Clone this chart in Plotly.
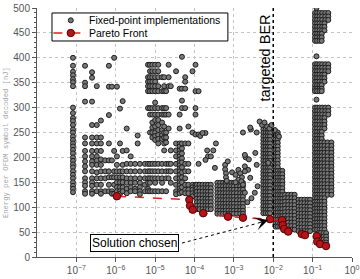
import math
import plotly.graph_objects as go

# ---------------- data ----------------
# Fixed-point implementations, vertical stacks: one BER, several energies [nJ]
stack_ber = [8.2e-8, 1.66e-7, 2.5e-7, 3.3e-7, 4.2e-7, 5.4e-7, 6.7e-7, 8e-7, 9.1e-7,
             1.07e-6, 1.28e-6, 1.5e-6, 1.9e-6, 2.4e-6, 3.1e-6, 3.6e-6, 4.1e-6, 5.5e-6,
             6.6e-6, 7.4e-6, 8.5e-6, 1.0e-5, 1.2e-5, 1.5e-5, 1.7e-5, 1.9e-5, 2.2e-5,
             2.5e-5, 3.4e-5, 4.2e-5, 4.8e-5, 5.8e-5, 7e-5, 8.9e-5, 1.06e-4, 1.27e-4]
stack_energy = [
    [400, 384, 372, 365, 357, 351, 343, 300, 289, 279, 273, 265, 256, 250, 242, 235, 228, 222,
     215, 208, 200, 193, 186, 180, 172, 165, 158, 150, 143, 137, 130],
    [384, 350, 343, 312, 240, 228, 213, 202, 192, 182, 172, 158, 150, 143, 132, 127],
    [371, 360, 312, 265, 240, 228, 213, 202, 192, 185, 172, 158, 150, 143, 132, 127],
    [343, 265, 240, 228, 213, 202, 194, 185, 170, 158, 145, 132],
    [274, 240, 228, 213, 196, 185, 172, 158, 145, 132, 127],
    [194, 172, 158, 132],
    [384, 342, 285, 228, 194, 172, 160, 145, 132],
    [342, 194, 160, 132, 127],
    [400, 213, 172, 160, 145, 127],
    [342, 202, 185, 172, 160, 150, 140, 132],
    [298, 228, 172, 160, 150, 140, 132, 127],
    [313, 213, 185, 172, 160, 150, 140, 132],
    [258, 214, 187, 172, 158, 149, 137, 128],
    [202, 187, 172, 158, 149, 140, 132],
    [187, 172, 158, 149, 137, 132],
    [244, 228],
    [187, 172, 158, 149, 140, 132, 126],
    [187, 172, 158, 145, 132],
    [386, 361, 352, 343, 333, 299, 187, 172, 158, 149, 137, 132],
    [386, 373, 361, 352, 343, 333, 299, 286, 250, 187, 172, 158, 149, 132],
    [386, 373, 361, 352, 343, 333, 299, 286, 270, 260, 250, 240, 187, 172, 158, 132],
    [386, 373, 361, 352, 343, 333, 310, 299, 286, 275, 262, 250, 243, 235, 187, 172, 158, 149, 132],
    [386, 373, 361, 343, 333, 299, 286, 275, 265, 255, 245, 237, 228, 187, 172, 158, 132],
    [361, 333, 299, 286, 270, 255, 245, 237, 187, 172, 158, 149, 132],
    [361, 343, 333, 299, 286, 262, 250, 240, 228, 214],
    [333, 299, 286, 250, 240, 230, 187, 172, 158, 132],
    [386, 361, 343, 286, 258, 187, 172, 158],
    [343, 214, 187, 172, 149],
    [373, 228, 214, 202, 187, 172, 158, 145, 132, 126],
    [338, 286, 258, 228, 222, 214, 208, 202, 196, 190, 184, 178, 172, 165, 158, 150, 144, 138, 132, 128],
    [402, 338, 314, 299, 228, 218, 208, 198, 190, 180, 170, 160, 150, 140, 130],
    [361, 352, 338, 299, 228, 187, 172, 158, 145, 135, 128],
    [262, 228, 187, 172, 145, 135, 128],
    [373, 250, 145, 140, 135, 128, 122],
    [386, 333, 299, 286, 246, 145, 140, 135, 128],
    [333, 246, 187, 145, 135, 128, 120],
]

# Fixed-point implementations, horizontal blocks: rows of energies sharing BER positions
block_energy = [
    [490, 483, 476], [469, 462, 455], [448, 441, 434], [500, 403, 316],
    [387, 380, 373], [366, 359, 352], [345, 338, 333],
    [300, 293, 286], [279, 272, 265, 258], [251, 244, 237],
    [230, 223, 216, 209, 202, 195, 188, 181, 174, 167, 160, 153, 146, 139, 132, 125],
    [118, 111, 104, 97, 90, 83, 76, 69, 62, 55],
    [48, 41, 35, 29],
    [256, 249, 242, 235, 228, 221, 214, 207, 200, 193, 186, 179, 172, 165, 158, 151, 144,
     137, 130, 123, 116, 109, 102, 95, 88],
    [250, 243, 236, 229, 222, 215, 208, 201, 194, 187, 180],
    [173, 166, 159, 152, 145, 138, 131, 124, 117, 110, 103, 96, 89, 82, 75, 68, 61],
    [125, 118, 111, 104, 97, 90, 83, 76, 69, 62, 55],
    [115, 108, 101, 94, 87, 80, 73, 66, 59, 52],
    [145, 138, 131, 124, 117, 110, 103, 96],
    [149, 142, 135, 128, 121, 114, 107, 100, 93, 87],
]
block_ber = [
    [0.115, 0.13, 0.15, 0.175, 0.21, 0.25], [0.115, 0.13, 0.15, 0.175, 0.2], [0.115, 0.13, 0.15, 0.17],
    [0.125],
    [0.115, 0.13, 0.15, 0.175, 0.21, 0.25], [0.115, 0.13, 0.15, 0.175, 0.2], [0.115, 0.13, 0.15, 0.17],
    [0.115, 0.13, 0.15, 0.175, 0.21, 0.25], [0.115, 0.13, 0.15, 0.175, 0.2], [0.115, 0.13, 0.15, 0.17],
    [0.115, 0.13, 0.15, 0.17, 0.2, 0.24, 0.3],
    [0.115, 0.13, 0.15, 0.17, 0.2],
    [0.14, 0.16, 0.19, 0.22],
    [5.6e-3, 6.4e-3, 7.3e-3, 8.3e-3],
    [1.15e-2, 1.3e-2],
    [1.15e-2, 1.3e-2, 1.5e-2, 1.7e-2],
    [2.0e-2, 2.4e-2, 2.9e-2, 3.5e-2],
    [4.4e-2, 5.2e-2, 6.2e-2, 7.4e-2, 8.6e-2],
    [1.15e-4, 1.35e-4, 1.6e-4, 1.9e-4, 2.2e-4, 2.6e-4],
    [3.8e-4, 4.5e-4, 5.3e-4, 6.2e-4, 7.3e-4, 8.6e-4, 1e-3, 1.2e-3, 1.45e-3, 1.7e-3],
]

# Fixed-point implementations, isolated points
single_ber = [1.4e-4, 1.9e-4, 1.6e-4, 3.5e-4, 3e-4, 2.2e-4, 2.6e-4, 2.1e-4, 1.9e-4, 3.3e-4,
              6e-4, 6e-4, 6.3e-4, 6.3e-4, 6.6e-4, 1.3e-3, 1.45e-3, 1.6e-3, 1.3e-3, 1.55e-3,
              1.9e-3, 2.3e-3, 3.8e-3, 7.5e-3, 1.9e-3, 2.6e-3, 1.7e-3, 4e-3, 1.9e-3, 3.4e-3,
              2.2e-3, 2.8e-3, 2e-3, 3.5e-3, 7e-4, 9e-4, 1.1e-3, 1.1e-3, 1.9e-3, 2.4e-3,
              4.5e-3, 5.2e-3, 6e-3, 7e-3, 8e-3, 9e-3, 1.1e-2, 1.3e-2, 1.4e-2, 1.7e-3, 2.7e-3,
              2.6e-3, 3.8e-3]
single_energy = [243, 249, 249, 228, 214, 202, 202, 214, 195, 179,
                 185, 176, 168, 160, 153, 175, 168, 160, 155, 152,
                 182, 175, 185, 189, 172, 159, 145, 142, 129, 129,
                 110, 118, 200, 209, 192, 170, 165, 150, 205, 196,
                 272, 265, 270, 262, 258, 265, 255, 245, 242, 250, 256,
                 260, 250]

# Pareto front
pareto_ber = [1.07e-6, 7.4e-5, 7.7e-5, 9e-5, 1.66e-4, 7.1e-4, 1.7e-3, 8.26e-3, 1.67e-2,
              1.74e-2, 1.9e-2, 2.4e-2, 5.3e-2, 6.4e-2, 0.127, 0.131, 0.154, 0.219]
pareto_energy = [122, 115, 103, 95, 88, 81, 79, 76, 74, 64, 56, 51, 46, 44, 42, 31, 26, 22]
chosen_index = 7

target_ber = 1e-2
x_tick_vals = [1e-7, 1e-6, 1e-5, 1e-4, 1e-3, 1e-2, 1e-1, 1e0]
x_tick_text = ['10<sup>−7</sup>', '10<sup>−6</sup>', '10<sup>−5</sup>', '10<sup>−4</sup>',
               '10<sup>−3</sup>', '10<sup>−2</sup>', '10<sup>−1</sup>', '10<sup>0</sup>']
y_tick_vals = [0, 50, 100, 150, 200, 250, 300, 350, 400, 450, 500]
legend_labels = ['Fixed-point implementations', 'Pareto Front']

# ---------------- style ----------------
GRAY_FILL, GRAY_EDGE = '#787878', '#1e1e1e'
RED_FILL, RED_EDGE, RED_LINE = '#b3151a', '#5a0000', '#e0201c'
SANS = 'Liberation Sans, Arial, sans-serif'

# ---------------- build ----------------
fx, fy = [], []
for b, es in zip(stack_ber, stack_energy):
    for e in es:
        fx.append(b)
        fy.append(e)
for es, bs in zip(block_energy, block_ber):
    for e in es:
        for b in bs:
            fx.append(b)
            fy.append(e)
fx += single_ber
fy += single_energy

fig = go.Figure()
fig.add_trace(go.Scatter(
    x=fx, y=fy, mode='markers', name=legend_labels[0], showlegend=False,
    marker=dict(size=5, color=GRAY_FILL, line=dict(color=GRAY_EDGE, width=1)),
))
fig.add_trace(go.Scatter(
    x=[target_ber, target_ber], y=[0, 500], mode='lines', showlegend=False,
    line=dict(color='black', width=1.5, dash='dot'), hoverinfo='skip',
))
cb, ce = pareto_ber[chosen_index], pareto_energy[chosen_index]
fig.add_trace(go.Scatter(
    x=[4.8e-5, cb * 0.45], y=[28, ce - 9], mode='lines', showlegend=False,
    line=dict(color='black', width=1, dash='dot'), hoverinfo='skip',
))
fig.add_trace(go.Scatter(
    x=pareto_ber, y=pareto_energy, mode='lines+markers', name=legend_labels[1], showlegend=False,
    line=dict(color=RED_LINE, width=1.5, dash='dash'),
    marker=dict(size=7.5, color=RED_FILL, line=dict(color=RED_EDGE, width=1)),
))

# arrow head pointing at the chosen solution
fig.add_annotation(
    x=math.log10(cb * 0.9), y=ce - 1.5, ax=math.log10(cb * 0.45), ay=ce - 9,
    xref='x', yref='y', axref='x', ayref='y', text='', showarrow=True,
    arrowhead=3, arrowsize=2.2, arrowwidth=1, arrowcolor='black', standoff=0,
)
fig.add_annotation(
    x=0.308, y=0.056, xref='paper', yref='paper', xanchor='center', yanchor='middle',
    text='Solution chosen', showarrow=False,
    font=dict(family=SANS, size=12, color='black'),
    bgcolor='white', bordercolor='black', borderwidth=1, borderpad=1,
)
fig.add_annotation(
    x=-2.21, y=0.801, xref='x', yref='paper', xanchor='center', yanchor='middle',
    text='targeted BER', showarrow=False,
    textangle=-90, font=dict(family=SANS, size=14.5, color='black'),
)
fig.add_annotation(
    x=-0.098, y=0.458, xref='paper', yref='paper', xanchor='center', yanchor='middle',
    text='Energy per OFDM symbol decoded [nJ]',
    showarrow=False, textangle=-90,
    font=dict(family='Liberation Mono, DejaVu Sans Mono, monospace', size=7.2, color='#a4a4a4'),
)

# compact boxed legend (top-left, inside the axes)
L, R, T, B = 0.0476, 0.606, 0.98, 0.8675
row1, row2, symx, textx = 0.9505, 0.8996, 0.1073, 0.158
shapes = [
    dict(type='rect', xref='paper', yref='paper', x0=L, x1=R, y0=B, y1=T,
         fillcolor='white', line=dict(color='black', width=1), layer='above'),
    dict(type='circle', xref='paper', yref='paper', xsizemode='pixel', ysizemode='pixel',
         xanchor=symx, yanchor=row1, x0=-2.5, x1=2.5, y0=-2.5, y1=2.5,
         fillcolor=GRAY_FILL, line=dict(color=GRAY_EDGE, width=1), layer='above'),
    dict(type='line', xref='paper', yref='paper', x0=0.052, x1=0.155, y0=row2, y1=row2,
         line=dict(color=RED_LINE, width=1.5, dash='dash'), layer='above'),
    dict(type='circle', xref='paper', yref='paper', xsizemode='pixel', ysizemode='pixel',
         xanchor=symx, yanchor=row2, x0=-3.7, x1=3.7, y0=-3.7, y1=3.7,
         fillcolor=RED_FILL, line=dict(color=RED_EDGE, width=1), layer='above'),
]
for lab, yy in zip(legend_labels, [row1, row2]):
    fig.add_annotation(x=textx, y=yy, xref='paper', yref='paper', text=lab, showarrow=False,
                       xanchor='left', yanchor='middle',
                       font=dict(family=SANS, size=10.5, color='black'))

fig.update_layout(
    width=360, height=279,
    margin=dict(l=37, r=8, t=8, b=22),
    paper_bgcolor='white', plot_bgcolor='white',
    font=dict(family=SANS),
    showlegend=False,
    shapes=shapes,
)
fig.update_xaxes(
    type='log', range=[-8, 0], tickvals=x_tick_vals, ticktext=x_tick_text, automargin=False,
    showgrid=True, gridcolor='#c4c4c4', griddash='dot', gridwidth=1,
    showline=True, linecolor='#555555', linewidth=1, ticks='outside', ticklen=4,
    tickcolor='#555555', tickfont=dict(size=10, color='#555555'), zeroline=False,
)
fig.update_yaxes(
    range=[0, 500], tickvals=y_tick_vals, automargin=False,
    showgrid=True, gridcolor='#c4c4c4', griddash='dot', gridwidth=1,
    showline=True, linecolor='#555555', linewidth=1, ticks='outside', ticklen=4,
    tickcolor='#555555', tickfont=dict(size=10, color='#555555'), zeroline=False,
    minor=dict(ticks='outside', ticklen=2, dtick=10, tickcolor='#555555', showgrid=False),
)

fig.write_html('out.html')
